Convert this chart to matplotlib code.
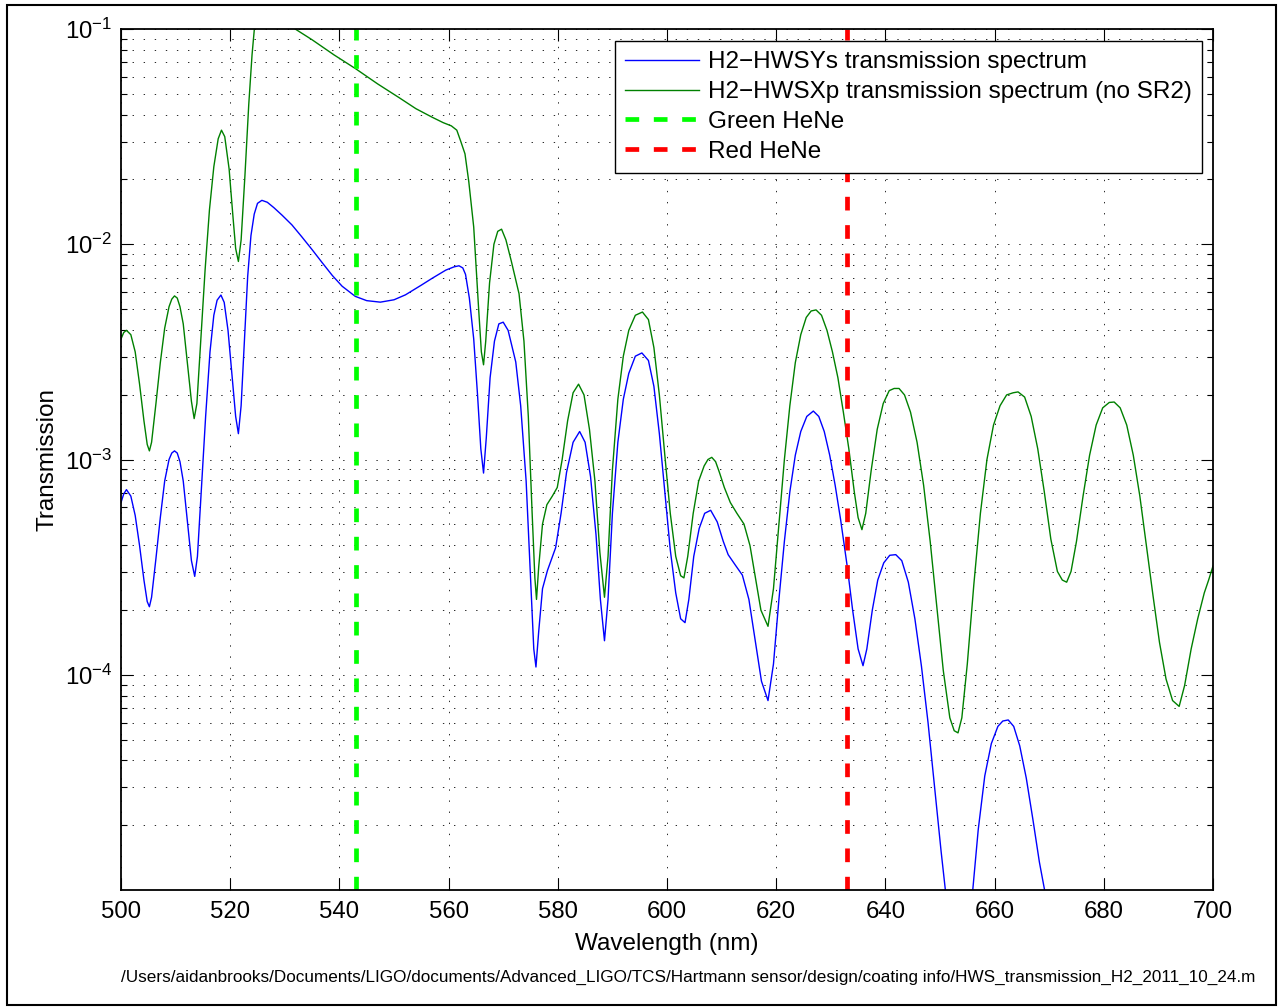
import matplotlib
matplotlib.use("Agg")
import matplotlib.pyplot as plt
import matplotlib.ticker as mticker
from matplotlib.patches import Rectangle
import numpy as np

plt.rcParams['font.family'] = ['Liberation Sans', 'DejaVu Sans']
plt.rcParams['mathtext.fontset'] = 'custom'
plt.rcParams['mathtext.rm'] = 'Liberation Sans'
plt.rcParams['mathtext.it'] = 'Liberation Sans'

# values: wavelength (nm) and log10(transmission)
ys_wl = [500.0, 500.5, 501.0, 501.8, 502.6, 503.4, 504.2, 504.8, 505.2, 505.6,
         506.4, 507.2, 508.0, 508.8, 509.3, 509.8, 510.3, 510.8, 511.4, 512.2, 512.9, 513.5,
         514.0, 514.7, 515.5, 516.3, 517.0, 517.6, 518.3, 518.9, 519.6, 520.3,
         521.0, 521.5, 522.0, 522.6, 523.2, 523.8, 524.4, 525.0, 525.8, 526.8,
         528.0, 529.5, 531.3, 533.1, 535.0, 536.8, 538.7, 540.5, 542.9, 545.0,
         547.5, 550.0, 552.1, 555.0, 557.0, 559.5, 561.0, 561.9, 562.6, 563.1, 563.8, 564.6,
         565.3, 565.9, 566.4, 566.9, 567.6, 568.4, 569.2, 570.0, 570.9, 572.3,
         573.2, 574.2, 575.0, 575.6, 576.0, 576.5, 577.2, 578.1, 579.6, 580.6,
         581.6, 582.8, 584.0, 585.0, 586.0, 587.0, 587.8, 588.55, 589.2, 590.0,
         591.0, 592.0, 593.0, 594.2, 595.4, 596.6, 597.6, 598.6, 599.6, 600.6,
         601.6, 602.5, 603.3, 604.0, 604.9, 605.9, 606.9, 608.0, 609.2, 610.3,
         611.2, 612.5, 613.8, 615.0, 616.2, 617.3, 618.5, 619.5, 620.5, 621.5,
         622.5, 623.5, 624.5, 625.6, 626.8, 627.8, 628.8, 629.8, 630.8, 631.8,
         633.0, 634.0, 635.0, 635.9, 636.6, 637.6, 638.6, 639.7, 640.8, 641.9,
         643.0, 644.2, 645.4, 646.6, 647.8, 649.0, 650.2, 651.2, 652.4, 653.5,
         654.6, 655.6, 656.0, 657.0, 658.2, 659.4, 660.6, 661.5, 662.5, 663.5,
         664.6, 665.8, 667.0, 668.2, 669.3, 670.5, 672.0, 674.0, 676.0, 680.0,
         684.0, 688.0, 692.0, 696.0, 700.0]
ys_log = [-3.20, -3.16, -3.14, -3.17, -3.26, -3.40, -3.56, -3.66, -3.684, -3.64,
          -3.46, -3.27, -3.10, -3.00, -2.97, -2.96, -2.97, -3.01, -3.10, -3.30, -3.47, -3.543,
          -3.45, -3.15, -2.80, -2.50, -2.33, -2.26, -2.236, -2.27, -2.40, -2.60,
          -2.80, -2.88, -2.75, -2.45, -2.15, -1.96, -1.86, -1.81, -1.796, -1.805,
          -1.83, -1.865, -1.91, -1.965, -2.025, -2.084, -2.145, -2.195, -2.242, -2.262,
          -2.269, -2.258, -2.235, -2.19, -2.158, -2.12, -2.105, -2.10, -2.11, -2.14, -2.25, -2.44,
          -2.70, -2.95, -3.063, -2.90, -2.62, -2.45, -2.37, -2.362, -2.40, -2.547,
          -2.75, -3.10, -3.55, -3.88, -3.964, -3.80, -3.60, -3.516, -3.41, -3.25,
          -3.06, -2.92, -2.87, -2.92, -3.08, -3.35, -3.65, -3.842, -3.65, -3.25,
          -2.92, -2.72, -2.60, -2.52, -2.505, -2.54, -2.66, -2.88, -3.15, -3.42,
          -3.62, -3.74, -3.758, -3.65, -3.45, -3.32, -3.25, -3.236, -3.29, -3.38,
          -3.442, -3.49, -3.537, -3.65, -3.85, -4.03, -4.12, -3.95, -3.65, -3.38,
          -3.15, -2.98, -2.87, -2.80, -2.775, -2.80, -2.87, -2.98, -3.12, -3.28,
          -3.495, -3.70, -3.88, -3.958, -3.88, -3.70, -3.56, -3.48, -3.445, -3.442,
          -3.47, -3.57, -3.74, -3.96, -4.22, -4.52, -4.82, -5.05, -5.40, -5.60,
          -5.40, -5.10, -5.00, -4.72, -4.47, -4.32, -4.24, -4.215, -4.21, -4.24,
          -4.33, -4.48, -4.67, -4.87, -5.02, -5.25, -5.60, -6.00, -6.30, -6.10,
          -5.80, -6.00, -6.50, -6.30, -6.00]

xp_wl = [500.0, 500.5, 501.0, 501.8, 502.6, 503.4, 504.2, 504.8, 505.2, 505.6,
         506.4, 507.2, 508.0, 508.8, 509.3, 509.8, 510.3, 510.8, 511.4, 512.2, 512.9, 513.4,
         513.9, 514.6, 515.4, 516.2, 517.0, 517.8, 518.4, 519.0, 519.8, 520.5,
         521.0, 521.5, 522.0, 522.7, 523.4, 524.0, 524.6, 525.5, 527.0, 529.0,
         531.9, 535.0, 539.0, 543.0, 547.0, 551.0, 554.0, 557.0, 559.0, 560.5,
         561.5, 562.2, 563.0, 563.7, 564.6, 565.5, 566.0, 566.4, 566.8, 567.5,
         568.3, 569.0, 569.7, 570.5, 571.5, 572.9, 573.8, 574.6, 575.3, 575.8,
         576.1, 576.5, 577.2, 578.0, 579.0, 579.9, 580.8, 581.8, 582.8, 583.8,
         584.8, 585.8, 586.8, 587.7, 588.55, 589.2, 590.0, 591.0, 592.0, 593.0,
         594.2, 595.5, 596.6, 597.6, 598.6, 599.6, 600.6, 601.6, 602.5, 603.1,
         603.8, 604.8, 605.8, 606.8, 607.5, 608.2, 608.9, 609.6, 610.5, 611.6, 612.8, 614.1,
         615.2, 616.2, 617.2, 618.5, 619.5, 620.5, 621.5, 622.5, 623.5, 624.5,
         625.5, 626.4, 627.3, 628.3, 629.3, 630.3, 631.3, 632.3, 633.3, 634.3,
         635.0, 635.7, 636.4, 637.4, 638.5, 639.6, 640.7, 641.6, 642.5, 643.5,
         644.6, 645.8, 647.0, 648.2, 649.4, 650.6, 651.8, 652.6, 653.3, 654.0,
         655.0, 656.2, 657.4, 658.6, 659.8, 661.0, 662.2, 663.4, 664.3, 665.5,
         666.7, 667.9, 669.1, 670.3, 671.5, 672.4, 673.2, 674.0, 675.0, 676.2,
         677.4, 678.6, 679.8, 681.0, 681.9, 683.0, 684.2, 685.4, 686.6, 687.8,
         689.0, 690.2, 691.4, 692.6, 693.8, 694.8, 696.0, 697.2, 698.4, 699.2,
         700.0]
xp_log = [-2.44, -2.41, -2.40, -2.42, -2.50, -2.65, -2.82, -2.93, -2.96, -2.92,
          -2.74, -2.55, -2.39, -2.29, -2.255, -2.24, -2.25, -2.29, -2.37, -2.56, -2.73, -2.81,
          -2.74, -2.45, -2.12, -1.84, -1.64, -1.51, -1.47, -1.50, -1.65, -1.87,
          -2.02, -2.08, -1.98, -1.68, -1.35, -1.12, -0.95, -0.82, -0.84, -0.91,
          -1.00, -1.05, -1.12, -1.185, -1.255, -1.32, -1.37, -1.41, -1.435, -1.45,
          -1.47, -1.52, -1.58, -1.71, -1.92, -2.30, -2.50, -2.56, -2.45, -2.18,
          -2.00, -1.94, -1.93, -1.98, -2.08, -2.23, -2.45, -2.80, -3.25, -3.55,
          -3.65, -3.50, -3.30, -3.21, -3.17, -3.13, -3.00, -2.82, -2.69, -2.65,
          -2.70, -2.86, -3.10, -3.43, -3.64, -3.45, -3.05, -2.72, -2.52, -2.40,
          -2.33, -2.315, -2.35, -2.48, -2.70, -2.98, -3.25, -3.45, -3.54, -3.55,
          -3.45, -3.25, -3.10, -3.03, -3.00, -2.99, -3.01, -3.06, -3.13, -3.20, -3.25, -3.30,
          -3.40, -3.55, -3.70, -3.775, -3.60, -3.30, -3.00, -2.75, -2.55, -2.42,
          -2.34, -2.31, -2.305, -2.33, -2.40, -2.50, -2.62, -2.78, -2.95, -3.15,
          -3.27, -3.326, -3.25, -3.05, -2.86, -2.74, -2.68, -2.67, -2.67, -2.70,
          -2.78, -2.92, -3.12, -3.38, -3.68, -3.98, -4.20, -4.26, -4.27, -4.20,
          -3.95, -3.58, -3.25, -3.00, -2.84, -2.75, -2.70, -2.69, -2.686, -2.71,
          -2.80, -2.95, -3.15, -3.37, -3.52, -3.56, -3.57, -3.52, -3.38, -3.17,
          -2.98, -2.84, -2.76, -2.735, -2.733, -2.76, -2.84, -2.98, -3.17, -3.40,
          -3.63, -3.85, -4.02, -4.12, -4.147, -4.05, -3.88, -3.74, -3.62, -3.56,
          -3.495]

green_hene = 543.0
red_hene = 633.0
labels = ['H2\u2212HWSYs transmission spectrum',
          'H2\u2212HWSXp transmission spectrum (no SR2)',
          'Green HeNe', 'Red HeNe']
path_text = ('/Users/aidanbrooks/Documents/LIGO/documents/Advanced_LIGO/TCS/'
             'Hartmann sensor/design/coating info/HWS_transmission_H2_2011_10_24.m')

W, H = 1278, 1008
fig = plt.figure(figsize=(W / 100, H / 100), dpi=100)
ax = fig.add_axes([121 / W, (H - 890) / H, 1092 / W, 861 / H])

ax.semilogy(ys_wl, 10 ** np.array(ys_log), color=(0, 0, 1), lw=1.0, label=labels[0])
ax.semilogy(xp_wl, 10 ** np.array(xp_log), color=(0, 0.5, 0), lw=1.0, label=labels[1])
ax.axvline(green_hene, color=(0, 1, 0), lw=3.4, dashes=(2.9, 3.1), label=labels[2])
ax.axvline(red_hene, color=(1, 0, 0), lw=3.4, dashes=(2.9, 3.1), label=labels[3])

ax.set_xlim(500, 700)
ax.set_ylim(1.0e-5, 1e-1)
ax.set_xticks(np.arange(500, 701, 20))
ax.yaxis.set_major_locator(mticker.FixedLocator([1e-4, 1e-3, 1e-2, 1e-1]))
ax.yaxis.set_minor_locator(mticker.LogLocator(base=10, subs=np.arange(2, 10)))
ax.yaxis.set_major_formatter(mticker.FuncFormatter(
    lambda v, p: r'$\mathregular{10^{%d}}$' % round(np.log10(v))))
ax.yaxis.set_minor_formatter(mticker.NullFormatter())

ax.tick_params(which='both', direction='in', top=True, right=True, labelsize=17.3)
ax.tick_params(which='major', length=8.5, width=0.8)
ax.tick_params(which='minor', length=4, width=0.8)
ax.tick_params(axis='x', pad=8)
ax.tick_params(axis='y', pad=6)
for s in ax.spines.values():
    s.set_linewidth(1.3)

grid_style = dict(color='0.15', linestyle=(0, (1.4, 10)), linewidth=0.7)
ax.xaxis.grid(True, which='major', **grid_style)
ax.yaxis.grid(True, which='both', **grid_style)

ax.set_xlabel('Wavelength (nm)', fontsize=17.5, labelpad=7)
ax.set_ylabel('Transmission', fontsize=17.5, labelpad=5)

leg = ax.legend(loc='upper right', bbox_to_anchor=(1 - 11 / 1092, 1 - 12 / 861),
                borderaxespad=0, fontsize=17.5, handlelength=3.05, handletextpad=0.35,
                labelspacing=0.32, borderpad=0.42, fancybox=False, framealpha=1)
leg.get_frame().set_edgecolor('k')
leg.get_frame().set_linewidth(1.0)

fig.text(121 / W, 1 - 977 / H, path_text, fontsize=12.3, ha='left', va='center')

fig.add_artist(Rectangle((7 / W, 3 / H), 1269 / W, 1000 / H, transform=fig.transFigure,
                         fill=False, edgecolor='k', lw=1.5))

fig.savefig('out.png', dpi=100)
